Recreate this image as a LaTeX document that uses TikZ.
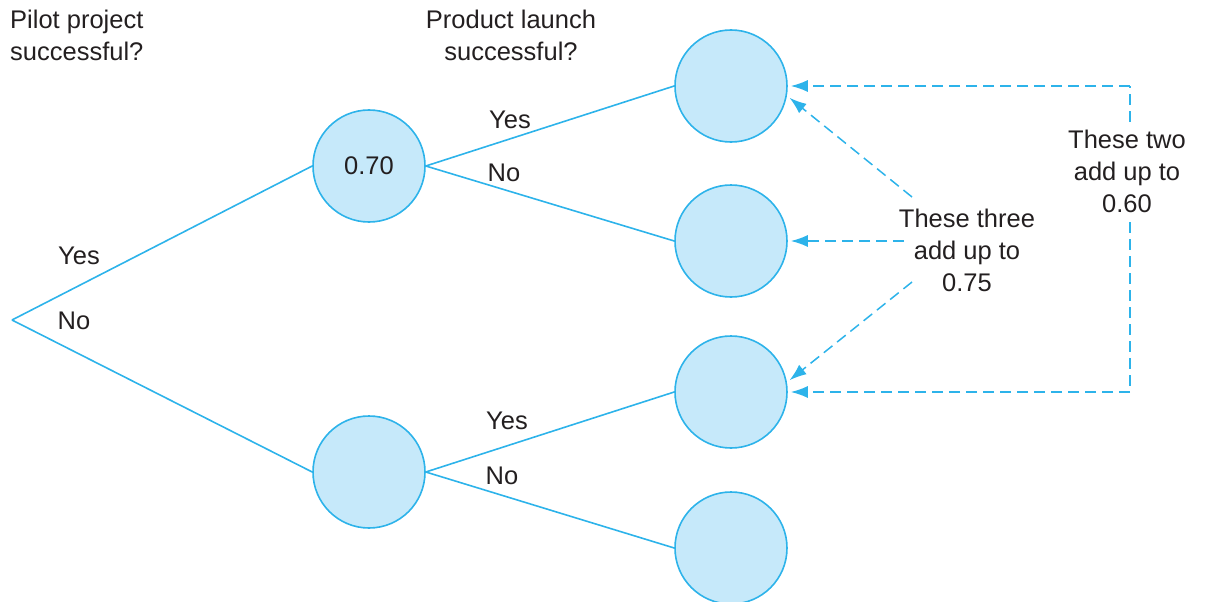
\documentclass[tikz,border=0pt]{standalone}
\usepackage{fontspec}
\setmainfont{Liberation Sans}
\usetikzlibrary{arrows.meta}
\definecolor{cfill}{HTML}{C6E9FA}
\definecolor{cline}{HTML}{2DB3EA}
\definecolor{ctext}{HTML}{231F20}
\begin{document}
\begin{tikzpicture}[x=1pt,y=-1pt,
  chance/.style={circle,draw=cline,fill=cfill,line width=1.6pt,minimum size=112pt,inner sep=0pt,font=\fontsize{25.5}{30}\selectfont,text=ctext},
  branch/.style={draw=cline,line width=1.6pt},
  lbl/.style={font=\fontsize{25.5}{32}\selectfont,text=ctext,inner sep=0pt},
  dasharrow/.style={draw=cline,line width=1.5pt,dash pattern=on 11pt off 6pt,-{Latex[length=17pt,width=12pt]}},
  dashline/.style={draw=cline,line width=1.5pt,dash pattern=on 11pt off 6pt}]
\useasboundingbox (0,0) rectangle (1205,602);
\coordinate (root) at (12,320);
\node[chance] (p) at (369,166) {0.70};
\node[chance] (q) at (369,472) {};
\node[chance] (a) at (731,86) {};
\node[chance] (b) at (731,241) {};
\node[chance] (c) at (731,392) {};
\node[chance] (d) at (731,548) {};
\draw[branch] (root) -- (p.west);
\draw[branch] (root) -- (q.west);
\draw[branch] (p.east) -- (a.west);
\draw[branch] (p.east) -- (b.west);
\draw[branch] (q.east) -- (c.west);
\draw[branch] (q.east) -- (d.west);
\node[lbl,align=left,anchor=north west] (h1) at (10,10) {Pilot project\\successful?};
\node[lbl,align=center,anchor=north] (h2) at (511,10) {Product launch\\successful?};
\node[lbl] (y1) at (79,256) {Yes};
\node[lbl] (n1) at (74,321) {No};
\node[lbl] (y2) at (510,120) {Yes};
\node[lbl] (n2) at (504,173) {No};
\node[lbl] (y3) at (507,421) {Yes};
\node[lbl] (n3) at (502,476) {No};
\node[lbl,align=center] (t3) at (967,250) {These three\\add up to\\0.75};
\node[lbl,align=center] (t2) at (1127,171) {These two\\add up to\\0.60};
\coordinate (tr) at (1130,86);
\coordinate (br) at (1130,392);
\coordinate (t2top) at (1130,122);
\coordinate (t2bot) at (1130,222);
\coordinate (s1) at (912,197);
\coordinate (s2) at (904,241);
\coordinate (s3) at (912,282);
\draw[dasharrow] (s1) -- ([shift={(3,0)}]a.-12);
\draw[dasharrow] (s2) -- ([shift={(3,0)}]b.east);
\draw[dasharrow] (s3) -- ([shift={(3,0)}]c.12);
\draw[dashline] (t2top) -- (tr);
\draw[dasharrow] (tr) -- ([shift={(3,0)}]a.east);
\draw[dashline] (t2bot) -- (br);
\draw[dasharrow] (br) -- ([shift={(3,0)}]c.east);
\end{tikzpicture}
\end{document}
